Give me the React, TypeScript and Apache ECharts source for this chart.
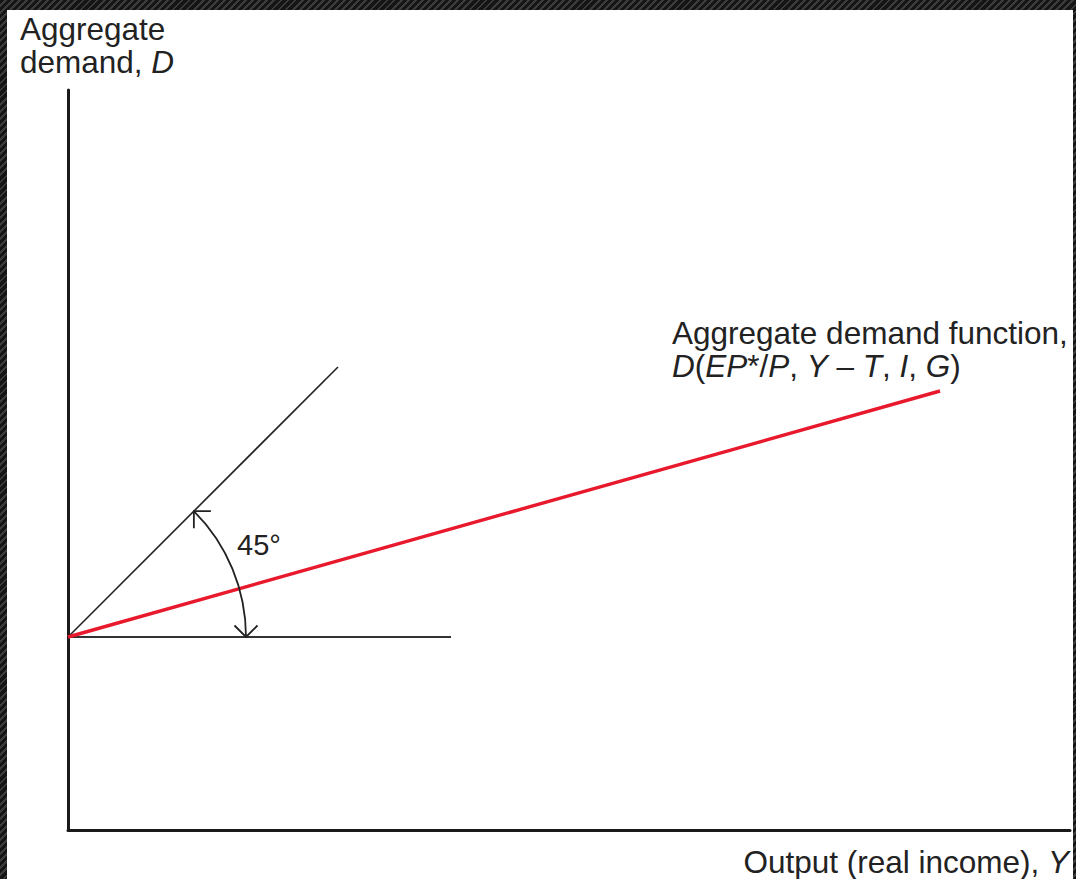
import React, { useEffect, useRef } from "react";
import * as echarts from "echarts";

// ---- data (chart units: 10 px per unit on both axes) ----
const xRange = [0, 100.2];
const yRange = [0, 74];
const horizontalRef: number[][] = [[0, 19.3], [38.3, 19.3]];
const line45: number[][] = [[0, 19.3], [27, 46.3]];
const demandLine: number[][] = [[0, 19.3], [87.2, 43.9]];
const arcData: number[][] = [[0, 19.3, 17.8]]; // centre x, centre y, radius
const angleLabel = "45°";
const angleLabelPos = [16.9, 28.5];

const yTitle = "{n|Aggregate}\n{n|demand, }{i|D}";
const xTitle = "{n|Output (real income), }{i|Y}";
const curveLabel =
  "{n|Aggregate demand function,}\n{i|D}{n|(}{i|EP}{n|*/}{i|P}{n|, }{i|Y}{n| – }{i|T}{n|, }{i|I}{n|, }{i|G}{n|)}";

const FONT = '"Liberation Sans", Arial, Helvetica, sans-serif';
const INK = "#222222";
const FS = 31.5;
const LH = 33;
const rich = {
  n: { fontSize: FS, fontFamily: FONT, color: INK, lineHeight: LH },
  i: { fontSize: FS, fontFamily: FONT, color: INK, lineHeight: LH, fontStyle: "italic" },
};

export default function App() {
  const ref = useRef<HTMLDivElement>(null);
  useEffect(() => {
    if (!ref.current) return;
    const chart = echarts.init(ref.current, undefined, { renderer: "svg" });
    const axisCommon = {
      type: "value" as const,
      axisLine: { show: true, onZero: false, lineStyle: { color: "#1a1a1a", width: 3 } },
      axisTick: { show: false },
      axisLabel: { show: false },
      splitLine: { show: false },
    };
    chart.setOption({
      animation: false,
      backgroundColor: "transparent",
      grid: { left: 68, top: 90, width: 1002, height: 740 },
      xAxis: { ...axisCommon, min: xRange[0], max: xRange[1] },
      yAxis: { ...axisCommon, min: yRange[0], max: yRange[1] },
      graphic: [
        {
          type: "rect",
          z: -100,
          shape: { x: 7, y: 10, width: 1066, height: 869 },
          style: { fill: "#ffffff" },
          silent: true,
        },
        {
          type: "text",
          x: 20,
          y: 12,
          style: { text: yTitle, rich, verticalAlign: "top", align: "left", fill: INK },
        },
        {
          type: "text",
          x: 1069,
          y: 845,
          style: { text: xTitle, rich, verticalAlign: "top", align: "right", fill: INK },
        },
        {
          type: "text",
          x: 672,
          y: 316,
          style: { text: curveLabel, rich, verticalAlign: "top", align: "left", fill: INK },
        },
      ],
      series: [
        {
          type: "line",
          data: horizontalRef,
          symbol: "none",
          lineStyle: { color: "#333333", width: 2 },
          z: 3,
        },
        {
          type: "line",
          data: line45,
          symbol: "none",
          lineStyle: { color: "#222222", width: 1.6 },
          z: 3,
        },
        {
          type: "line",
          data: demandLine,
          symbol: "none",
          lineStyle: { color: "#e8192c", width: 3.4 },
          z: 4,
        },
        {
          type: "custom",
          data: arcData,
          z: 5,
          renderItem: (params: any, api: any) => {
            const c = api.coord([api.value(0), api.value(1)]);
            const r = api.size([api.value(2), 0])[0];
            const k = Math.SQRT1_2;
            const p1 = [c[0] + r * k, c[1] - r * k];
            const p2 = [c[0] + r, c[1]];
            const L = 17;
            const b = 11.5;
            const lp = api.coord(angleLabelPos);
            const st = { stroke: INK, lineWidth: 1.8, fill: "none" };
            return {
              type: "group",
              children: [
                {
                  type: "arc",
                  shape: { cx: c[0], cy: c[1], r, startAngle: -Math.PI / 4, endAngle: 0, clockwise: true },
                  style: st,
                },
                {
                  type: "polyline",
                  shape: { points: [[p1[0] + L, p1[1]], [p1[0], p1[1]], [p1[0], p1[1] + L]] },
                  style: st,
                },
                {
                  type: "polyline",
                  shape: { points: [[p2[0] - b, p2[1] - b], [p2[0], p2[1]], [p2[0] + b, p2[1] - b]] },
                  style: st,
                },
                {
                  type: "text",
                  x: lp[0],
                  y: lp[1],
                  style: {
                    text: angleLabel,
                    fontSize: 29,
                    fontFamily: FONT,
                    fill: INK,
                    align: "left",
                    verticalAlign: "middle",
                  },
                },
              ],
            };
          },
        },
      ],
    });
    return () => chart.dispose();
  }, []);

  return (
    <div
      style={{
        position: "fixed",
        left: 0,
        top: 0,
        width: 1076,
        height: 879,
        background:
          "repeating-linear-gradient(135deg, #151515 0px, #151515 3px, #3c3c3c 3px, #3c3c3c 5px)",
      }}
    >
      <div ref={ref} style={{ width: 1076, height: 879 }} />
    </div>
  );
}
